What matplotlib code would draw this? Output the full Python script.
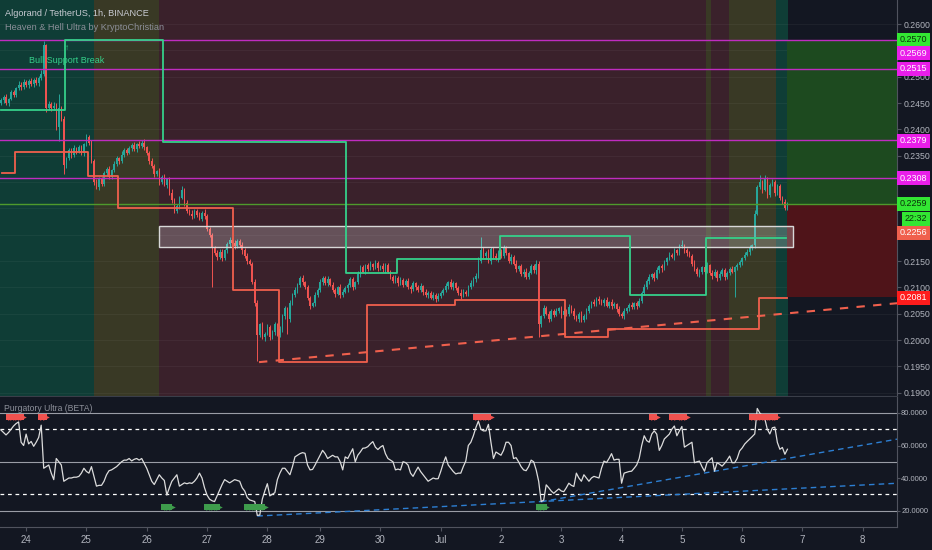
import numpy as np
import matplotlib
matplotlib.use('Agg')
import matplotlib.pyplot as plt
from matplotlib.patches import Rectangle

plt.rcParams['font.family'] = ['Liberation Sans Narrow', 'Liberation Sans', 'DejaVu Sans']

# ---- data -------------------------------------------------------------
# hourly closes, ALGO/USDT, in 1e-4 USDT
closes_e4 = [
    2455, 2462, 2450, 2458, 2470, 2466, 2478, 2485, 2480, 2490, 2484, 2492, 2486, 2494, 2488, 2498, 2505, 2560, 2440, 2448,
    2440, 2445, 2405, 2440, 2420, 2332, 2345, 2360, 2352, 2364, 2358, 2366, 2355, 2372, 2385, 2375, 2340, 2300, 2290, 2305,
    2296, 2318, 2325, 2310, 2322, 2335, 2345, 2340, 2352, 2360, 2356, 2365, 2370, 2362, 2372, 2368, 2375, 2366, 2355, 2340,
    2330, 2315, 2320, 2300, 2310, 2295, 2305, 2280, 2265, 2245, 2255, 2270, 2285, 2260, 2245, 2240, 2235, 2245, 2238, 2230,
    2242, 2235, 2210, 2200, 2175, 2165, 2158, 2168, 2155, 2170, 2182, 2190, 2185, 2178, 2188, 2180, 2170, 2160, 2150, 2145,
    2110, 2070, 2010, 2030, 2005, 2012, 2025, 2005, 2015, 2030, 2010, 2020, 2045, 2060, 2040, 2070, 2085, 2095, 2105, 2118,
    2110, 2100, 2080, 2065, 2070, 2085, 2095, 2110, 2118, 2108, 2115, 2105, 2095, 2088, 2100, 2085, 2092, 2098, 2105, 2115,
    2100, 2110, 2125, 2138, 2130, 2142, 2135, 2144, 2138, 2146, 2136, 2140, 2134, 2142, 2130, 2120, 2112, 2118, 2108, 2114,
    2105, 2112, 2100, 2096, 2108, 2100, 2095, 2102, 2092, 2085, 2090, 2080, 2086, 2078, 2084, 2090, 2095, 2102, 2110, 2100,
    2108, 2098, 2090, 2084, 2092, 2088, 2100, 2108, 2115, 2122, 2150, 2170, 2160, 2165, 2150, 2172, 2160, 2155, 2168, 2160,
    2175, 2165, 2150, 2158, 2145, 2135, 2140, 2125, 2130, 2120, 2128, 2140, 2132, 2145, 2030, 2045, 2060, 2050, 2040, 2055,
    2048, 2055, 2060, 2048, 2056, 2050, 2062, 2055, 2045, 2040, 2050, 2038, 2046, 2055, 2065, 2072, 2068, 2078, 2074, 2070,
    2076, 2065, 2072, 2064, 2068, 2058, 2050, 2045, 2055, 2060, 2066, 2062, 2070, 2065, 2075, 2090, 2100, 2112, 2120, 2125,
    2118, 2132, 2140, 2136, 2148, 2155, 2162, 2158, 2170, 2166, 2178, 2180, 2170, 2165, 2160, 2145, 2135, 2125, 2130, 2138,
    2130, 2142, 2128, 2122, 2130, 2118, 2125, 2132, 2120, 2128, 2135, 2130, 2138, 2142, 2148, 2155, 2162, 2168, 2175, 2180,
    2240, 2290, 2300, 2285, 2305, 2275, 2295, 2300, 2280, 2292, 2270, 2262, 2250, 2259,
]
first_open_e4 = 2450
# wick lengths above / below the body, 1e-4 USDT
upper_wick_e4 = [
    4, 3, 6, 2, 5, 4, 3, 6, 4, 5, 3, 4, 6, 3, 5, 4, 7, 8, 3, 5,
    4, 6, 5, 28, 4, 6, 3, 5, 4, 6, 3, 4, 5, 3, 7, 4, 5, 3, 6, 4,
    5, 3, 4, 6, 3, 5, 4, 3, 6, 4, 5, 3, 4, 6, 3, 5, 4, 6, 3, 4,
    5, 4, 3, 6, 4, 5, 3, 4, 6, 5, 3, 4, 7, 3, 5, 4, 6, 3, 4, 5,
    3, 6, 4, 5, 4, 3, 6, 4, 5, 3, 4, 6, 3, 5, 4, 3, 6, 4, 5, 3,
    4, 5, 6, 3, 5, 4, 6, 3, 4, 5, 3, 6, 4, 5, 3, 6, 4, 5, 3, 4,
    6, 3, 5, 4, 3, 6, 4, 5, 3, 4, 6, 3, 5, 4, 3, 6, 4, 5, 3, 4,
    5, 3, 6, 4, 5, 3, 4, 6, 3, 5, 4, 3, 6, 4, 5, 3, 4, 6, 3, 5,
    4, 3, 6, 4, 5, 3, 4, 6, 3, 5, 4, 3, 6, 4, 5, 3, 4, 6, 3, 5,
    4, 3, 5, 6, 4, 3, 5, 6, 4, 5, 8, 25, 6, 4, 8, 5, 4, 6, 3, 5,
    6, 4, 3, 5, 4, 6, 3, 5, 4, 6, 3, 5, 4, 6, 5, 3, 6, 4, 5, 3,
    4, 6, 3, 5, 4, 3, 6, 4, 5, 3, 4, 6, 3, 5, 4, 3, 6, 4, 5, 3,
    4, 6, 3, 5, 4, 3, 6, 4, 5, 3, 4, 6, 3, 5, 4, 3, 6, 4, 5, 3,
    4, 6, 3, 5, 4, 3, 6, 4, 5, 3, 4, 10, 3, 5, 4, 3, 6, 4, 5, 3,
    4, 6, 3, 5, 4, 3, 6, 4, 5, 3, 4, 6, 3, 5, 4, 3, 6, 4, 5, 3,
    6, 5, 13, 4, 8, 5, 4, 6, 3, 5, 4, 3, 5, 4,
]
lower_wick_e4 = [
    3, 5, 4, 6, 3, 4, 5, 3, 6, 4, 3, 5, 4, 6, 3, 5, 4, 3, 8, 4,
    5, 3, 6, 27, 4, 17, 5, 3, 6, 4, 5, 3, 4, 6, 3, 5, 4, 6, 3, 5,
    4, 3, 6, 4, 5, 3, 4, 6, 3, 5, 4, 3, 6, 4, 5, 3, 4, 6, 3, 5,
    4, 6, 3, 5, 4, 3, 6, 4, 5, 3, 4, 6, 3, 5, 4, 3, 6, 4, 5, 3,
    4, 6, 3, 5, 75, 3, 6, 4, 5, 3, 4, 6, 3, 5, 4, 3, 6, 4, 5, 3,
    4, 6, 50, 5, 4, 6, 3, 5, 4, 6, 3, 5, 4, 6, 28, 5, 4, 3, 6, 4,
    5, 3, 4, 6, 3, 5, 4, 3, 6, 4, 5, 3, 4, 6, 3, 5, 4, 3, 6, 4,
    5, 3, 4, 6, 3, 5, 4, 3, 6, 4, 5, 3, 4, 6, 3, 5, 4, 3, 6, 4,
    5, 3, 4, 6, 3, 5, 4, 3, 6, 4, 5, 3, 4, 6, 3, 5, 4, 3, 6, 4,
    5, 3, 4, 6, 3, 5, 4, 3, 6, 4, 5, 3, 4, 6, 3, 5, 4, 3, 6, 4,
    5, 3, 4, 6, 3, 5, 4, 3, 6, 4, 5, 3, 4, 6, 25, 5, 4, 3, 6, 4,
    5, 3, 4, 6, 3, 5, 4, 3, 6, 4, 5, 3, 4, 6, 3, 5, 4, 3, 6, 4,
    5, 3, 4, 6, 3, 5, 4, 3, 6, 4, 5, 3, 4, 6, 3, 5, 4, 3, 6, 4,
    5, 3, 4, 6, 3, 5, 4, 3, 6, 4, 5, 3, 4, 6, 3, 5, 4, 3, 6, 4,
    5, 3, 4, 6, 3, 5, 4, 3, 6, 4, 5, 3, 48, 6, 3, 5, 4, 3, 6, 4,
    5, 3, 4, 6, 3, 5, 4, 3, 6, 4, 5, 3, 4, 3,
]

# Purgatory Ultra oscillator, one value per bar
osc_values = [
    69.5, 68, 66.5, 68, 70, 72, 73.5, 74.5, 62, 60, 67, 61, 62.5, 59.5, 62, 65, 72.5, 46, 47, 48,
    43, 39, 52, 50, 48, 38, 39, 40, 40, 40.5, 40.5, 41, 43, 46, 44, 43, 47, 41, 35, 35.5,
    35.5, 38, 42, 44.5, 45, 46, 47, 48.5, 50, 51, 51, 52, 50.5, 51.5, 52, 51, 52, 49, 46, 42,
    38, 36, 39, 42, 40, 38.5, 29.5, 34, 38, 40, 42, 35, 36, 37, 36.5, 37, 36.7, 38, 40, 43,
    40, 34, 29.5, 27, 26, 25.5, 29, 32.5, 36, 39, 38, 37, 38, 39, 38.5, 38, 34, 32, 28, 26.5,
    26, 25.5, 17, 17.2, 27, 32, 36.5, 29, 30, 31, 39, 43, 46, 46, 44, 42, 47, 53, 54, 55,
    55.6, 55.2, 48, 45, 45.3, 48, 51, 54, 57, 55, 52, 53, 54, 53, 53, 50, 45, 53, 52, 55,
    58, 50, 54, 56, 58.3, 58.5, 59.3, 61, 62.4, 59, 57.5, 59, 60, 55, 52, 51, 50, 45, 45.5, 45,
    50, 49.5, 48, 43, 41, 44, 46.7, 44, 42, 40, 38, 39, 40, 39.5, 39.6, 44, 49, 53, 48, 46,
    44, 42.5, 43, 43, 47, 50.5, 60, 62, 66, 71, 75, 70, 69, 69, 73, 62, 52, 56, 55, 54,
    57, 62, 62, 60, 52, 52.5, 50, 47, 45, 44.5, 47, 51, 50, 45, 38, 25.5, 26.4, 35.8, 34, 32,
    30.6, 32, 33.3, 32, 31.6, 34, 36.8, 35.5, 34.8, 43, 40, 38, 42, 40, 38, 40, 41, 40.5, 40, 46,
    50.4, 49.5, 52, 55, 51, 51.5, 51.5, 36.8, 43, 43.5, 44, 44.2, 46, 48, 52, 60, 66, 63, 62, 67,
    69, 67, 57, 60, 64, 65.5, 67, 70, 72, 66, 69, 71.7, 59, 60, 61, 62, 49.4, 50, 50.4, 47,
    44.2, 49.4, 51, 52.5, 44.2, 49.4, 48.5, 47.3, 49, 51, 53.5, 49.4, 49.4, 52, 56.7, 58.5, 60.9, 62.5, 64, 65.5,
    67.1, 82.8, 80, 78.6, 76.5, 70, 67.1, 70.9, 71.3, 61.9, 57.7, 58.8, 54.6, 57.7,
]
sell_signal_bars = [3, 4, 5, 6, 7, 8, 16, 17, 189, 190, 191, 192, 193, 194, 259, 260,
                    267, 268, 270, 271, 272, 299, 300, 301, 302, 303, 304, 305, 306, 307, 308]
buy_signal_bars = [65, 66, 67, 82, 83, 84, 85, 86, 98, 99, 100, 101, 102, 103, 104, 214, 215, 216]

# oscillator trend lines (bar, value)
osc_trend_low_bars = [102, 357]
osc_trend_low_vals = [16.6, 36.8]
osc_trend_high_bars = [215, 357]
osc_trend_high_vals = [25.4, 64.0]

# Heaven & Hell step lines (bar where the level starts, level in 1e-4)
resist_bars = [0, 25.5, 64.5, 137.5, 157.5, 198.5, 250.5, 280.5, 312.5]
resist_e4 = [2437, 2570, 2376, 2127, 2154, 2198, 2086, 2194, 2194]
support_bars = [0.5, 5.5, 34.5, 46.5, 92.5, 110.5, 145.5, 180.5, 224.5, 241.5, 301.5, 313]
support_e4 = [2317, 2357, 2311, 2251, 2095, 1958, 2067, 2076, 2006, 2021, 2080, 2080]
support_trend_bars = [102.7, 357]
support_trend_e4 = [1958, 2070]

# levels
target_levels = [0.2569, 0.2515, 0.2379, 0.2308]
last_price = 0.2259
take_profit = 0.2570
stop_loss = 0.2081
zone_bars = [62.9, 315.2]
zone_prices = [0.21766, 0.22165]
trade_start_bar = 312.8

# background regime bands (bar start, bar end, regime)
band_start = [-0.5, 37, 63, 280.6, 282.6, 289.8, 308.5]
band_end = [37, 63, 280.6, 282.6, 289.8, 308.5, 313.3]
band_regime = ['heaven', 'purg', 'hell', 'purg', 'hell', 'purg', 'heaven']

day_labels = ['24', '25', '26', '27', '28', '29', '30', 'Jul', '2', '3', '4', '5', '6', '7', '8']
day_bars = [10, 34, 58, 82, 106, 127, 151, 175, 199, 223, 247, 271, 295, 319, 343]

price_ticks = np.arange(0.19, 0.26001, 0.005)
hidden_ticks = ['0.2550', '0.2300', '0.2250', '0.2200']   # sit under the price tags

# ---- style ------------------------------------------------------------
BG = '#131722'
TXT = '#b2b5be'
UP, DOWN = '#26a69a', '#ef5350'
MAG = '#e91ee9'
LIME = '#33e633'
regime_colors = {'heaven': '#0f3d36', 'purg': '#393925', 'hell': '#3a212b'}

closes = np.array(closes_e4) / 1e4
opens = np.concatenate([[first_open_e4 / 1e4], closes[:-1]])
highs = np.maximum(opens, closes) + np.array(upper_wick_e4) / 1e4
lows = np.minimum(opens, closes) - np.array(lower_wick_e4) / 1e4
x = np.arange(len(closes))
XMIN, XMAX = -0.4, 356.6

fig = plt.figure(figsize=(9.32, 5.5), dpi=100, facecolor=BG)
ax = fig.add_axes([0, 0.28, 0.9624, 0.72])
ax2 = fig.add_axes([0, 0.0418, 0.9624, 0.2364])

# ---- price pane -------------------------------------------------------
ax.set_facecolor(BG)
ax.set_xlim(XMIN, XMAX)
ax.set_ylim(0.18937, 0.26456)

for s, e, r in zip(band_start, band_end, band_regime):
    ax.axvspan(s, e, color=regime_colors[r], lw=0, zorder=0)
for t in price_ticks:
    ax.axhline(t, color='white', alpha=0.045, lw=0.8, zorder=0.5)

ax.fill_between([trade_start_bar, XMAX], last_price, take_profit, color='#1d4a1f', lw=0, zorder=0.6)
ax.fill_between([trade_start_bar, XMAX], stop_loss, last_price, color='#4f1419', lw=0, zorder=0.6)

cols = np.where(closes >= opens, UP, DOWN)
ax.vlines(x, lows, highs, colors=cols, lw=0.7, zorder=2)
ax.bar(x, np.maximum(np.abs(closes - opens), 0.00012), bottom=np.minimum(opens, closes),
       width=0.62, color=cols, lw=0, zorder=2)

ax.add_patch(Rectangle((zone_bars[0], zone_prices[0]), zone_bars[1] - zone_bars[0],
                       zone_prices[1] - zone_prices[0], fc=(1, 1, 1, 0.22),
                       ec='#d8d8d8', lw=1.0, zorder=3))

for lvl in target_levels:
    ax.axhline(lvl, color='#c02cc0', lw=1.0, zorder=3.5)
ax.axhline(last_price, color='#4e9a2c', lw=1.0, zorder=3.5)

ax.plot(resist_bars, np.array(resist_e4) / 1e4, drawstyle='steps-post', color='#35d08a', lw=1.3, zorder=4)
ax.plot(support_bars, np.array(support_e4) / 1e4, drawstyle='steps-post', color='#f0604d', lw=1.3, zorder=4)
ax.plot(support_trend_bars, np.array(support_trend_e4) / 1e4, color='#f0604d', lw=1.5,
        ls=(0, (4, 4)), zorder=4)

ax.text(26.3, 0.2530, 'Bull Support Break', color='#35d08a', fontsize=6.5, ha='center', va='center', zorder=5)
ax.text(26.3, 0.2554, '\u2191', color='#35d08a', fontsize=6, ha='center', va='center', zorder=5)

ax.yaxis.tick_right()
ax.set_yticks(price_ticks)
ax.set_yticklabels(['' if f'{t:.4f}' in hidden_ticks else f'{t:.4f}' for t in price_ticks])
ax.tick_params(axis='y', colors='#50535e', labelcolor=TXT, labelsize=6.3, length=3, pad=2)
ax.tick_params(axis='x', bottom=False, labelbottom=False)
for sp in ['top', 'left']:
    ax.spines[sp].set_visible(False)
ax.spines['right'].set_color('#50535e')
ax.spines['bottom'].set_color('#3a3e49')

# price scale tags
tag_text = ['0.2570', '0.2569', '0.2515', '0.2379', '0.2308', '0.2259', '22:32', '0.2256', '0.2081']
tag_bg = [LIME, MAG, MAG, MAG, MAG, LIME, LIME, '#f0604d', '#ff1c1c']
tag_fg = ['#0b300b', 'white', 'white', 'white', 'white', '#0b300b', '#0b300b', 'white', 'white']
tag_y = [0.2570, 0.25449, 0.25146, 0.23779, 0.23076, 0.22583, 0.22298, 0.22032, 0.20798]
tag_x = [1.003, 1.003, 1.003, 1.003, 1.003, 1.003, 1.009, 1.003, 1.003]
for s, bgc, fgc, yy, xx in zip(tag_text, tag_bg, tag_fg, tag_y, tag_x):
    ax.text(xx, yy, s, transform=ax.get_yaxis_transform(), ha='left', va='center',
            fontsize=6.5, color=fgc, clip_on=False, zorder=10,
            bbox=dict(boxstyle='square,pad=0.3', fc=bgc, ec='none'))

fig.text(5 / 932, 1 - 13 / 550, 'Algorand / TetherUS, 1h, BINANCE', color='#c9ccd4',
         fontsize=6.6, ha='left', va='center')
fig.text(5 / 932, 1 - 27 / 550, 'Heaven & Hell Ultra by KryptoChristian', color='#8d909a',
         fontsize=6.6, ha='left', va='center')

# ---- oscillator pane --------------------------------------------------
ax2.set_facecolor(BG)
ax2.set_xlim(XMIN, XMAX)
ax2.set_ylim(9.85, 89.85)
for lvl in [80, 50, 20]:
    ax2.axhline(lvl, color='#9a9da6', lw=0.8, zorder=1)
for lvl in [70, 30]:
    ax2.axhline(lvl, color='white', lw=0.9, ls=(0, (3, 3)), zorder=1)

ax2.plot(osc_trend_low_bars, osc_trend_low_vals, color='#2d7fd3', lw=1.0, ls=(0, (4, 3)), zorder=2)
ax2.plot(osc_trend_high_bars, osc_trend_high_vals, color='#2d7fd3', lw=1.0, ls=(0, (4, 3)), zorder=2)
ax2.plot(x, osc_values[:len(x)], color='#dcdcdc', lw=0.9, zorder=3)

sb = np.array(sell_signal_bars)
bb = np.array(buy_signal_bars)
ax2.scatter(sb, np.full(len(sb), 77.3), marker='s', s=22, color='#f0524f', lw=0, zorder=4)
ax2.scatter(sb + 0.9, np.full(len(sb), 77.3), marker='>', s=22, color='#f0524f', lw=0, zorder=4)
ax2.scatter(bb, np.full(len(bb), 22.0), marker='s', s=22, color='#3e9c4c', lw=0, zorder=4)
ax2.scatter(bb + 0.9, np.full(len(bb), 22.0), marker='>', s=22, color='#3e9c4c', lw=0, zorder=4)

ax2.text(0.005, 0.908, 'Purgatory Ultra (BETA)', transform=ax2.transAxes, color='#8d909a',
         fontsize=6.2, ha='left', va='center')

ax2.yaxis.tick_right()
ax2.set_yticks([20, 40, 60, 80])
ax2.set_yticklabels(['20.0000', '40.0000', '60.0000', '80.0000'])
ax2.set_xticks(day_bars)
ax2.set_xticklabels(day_labels)
ax2.tick_params(axis='y', colors='#50535e', labelcolor=TXT, labelsize=5.5, length=2, pad=1)
ax2.tick_params(axis='x', colors='#50535e', labelcolor=TXT, labelsize=7, length=3, pad=3)
for sp in ['top', 'left']:
    ax2.spines[sp].set_visible(False)
ax2.spines['right'].set_color('#50535e')
ax2.spines['bottom'].set_color('#50535e')

fig.savefig('out.png', dpi=100, facecolor=BG)
